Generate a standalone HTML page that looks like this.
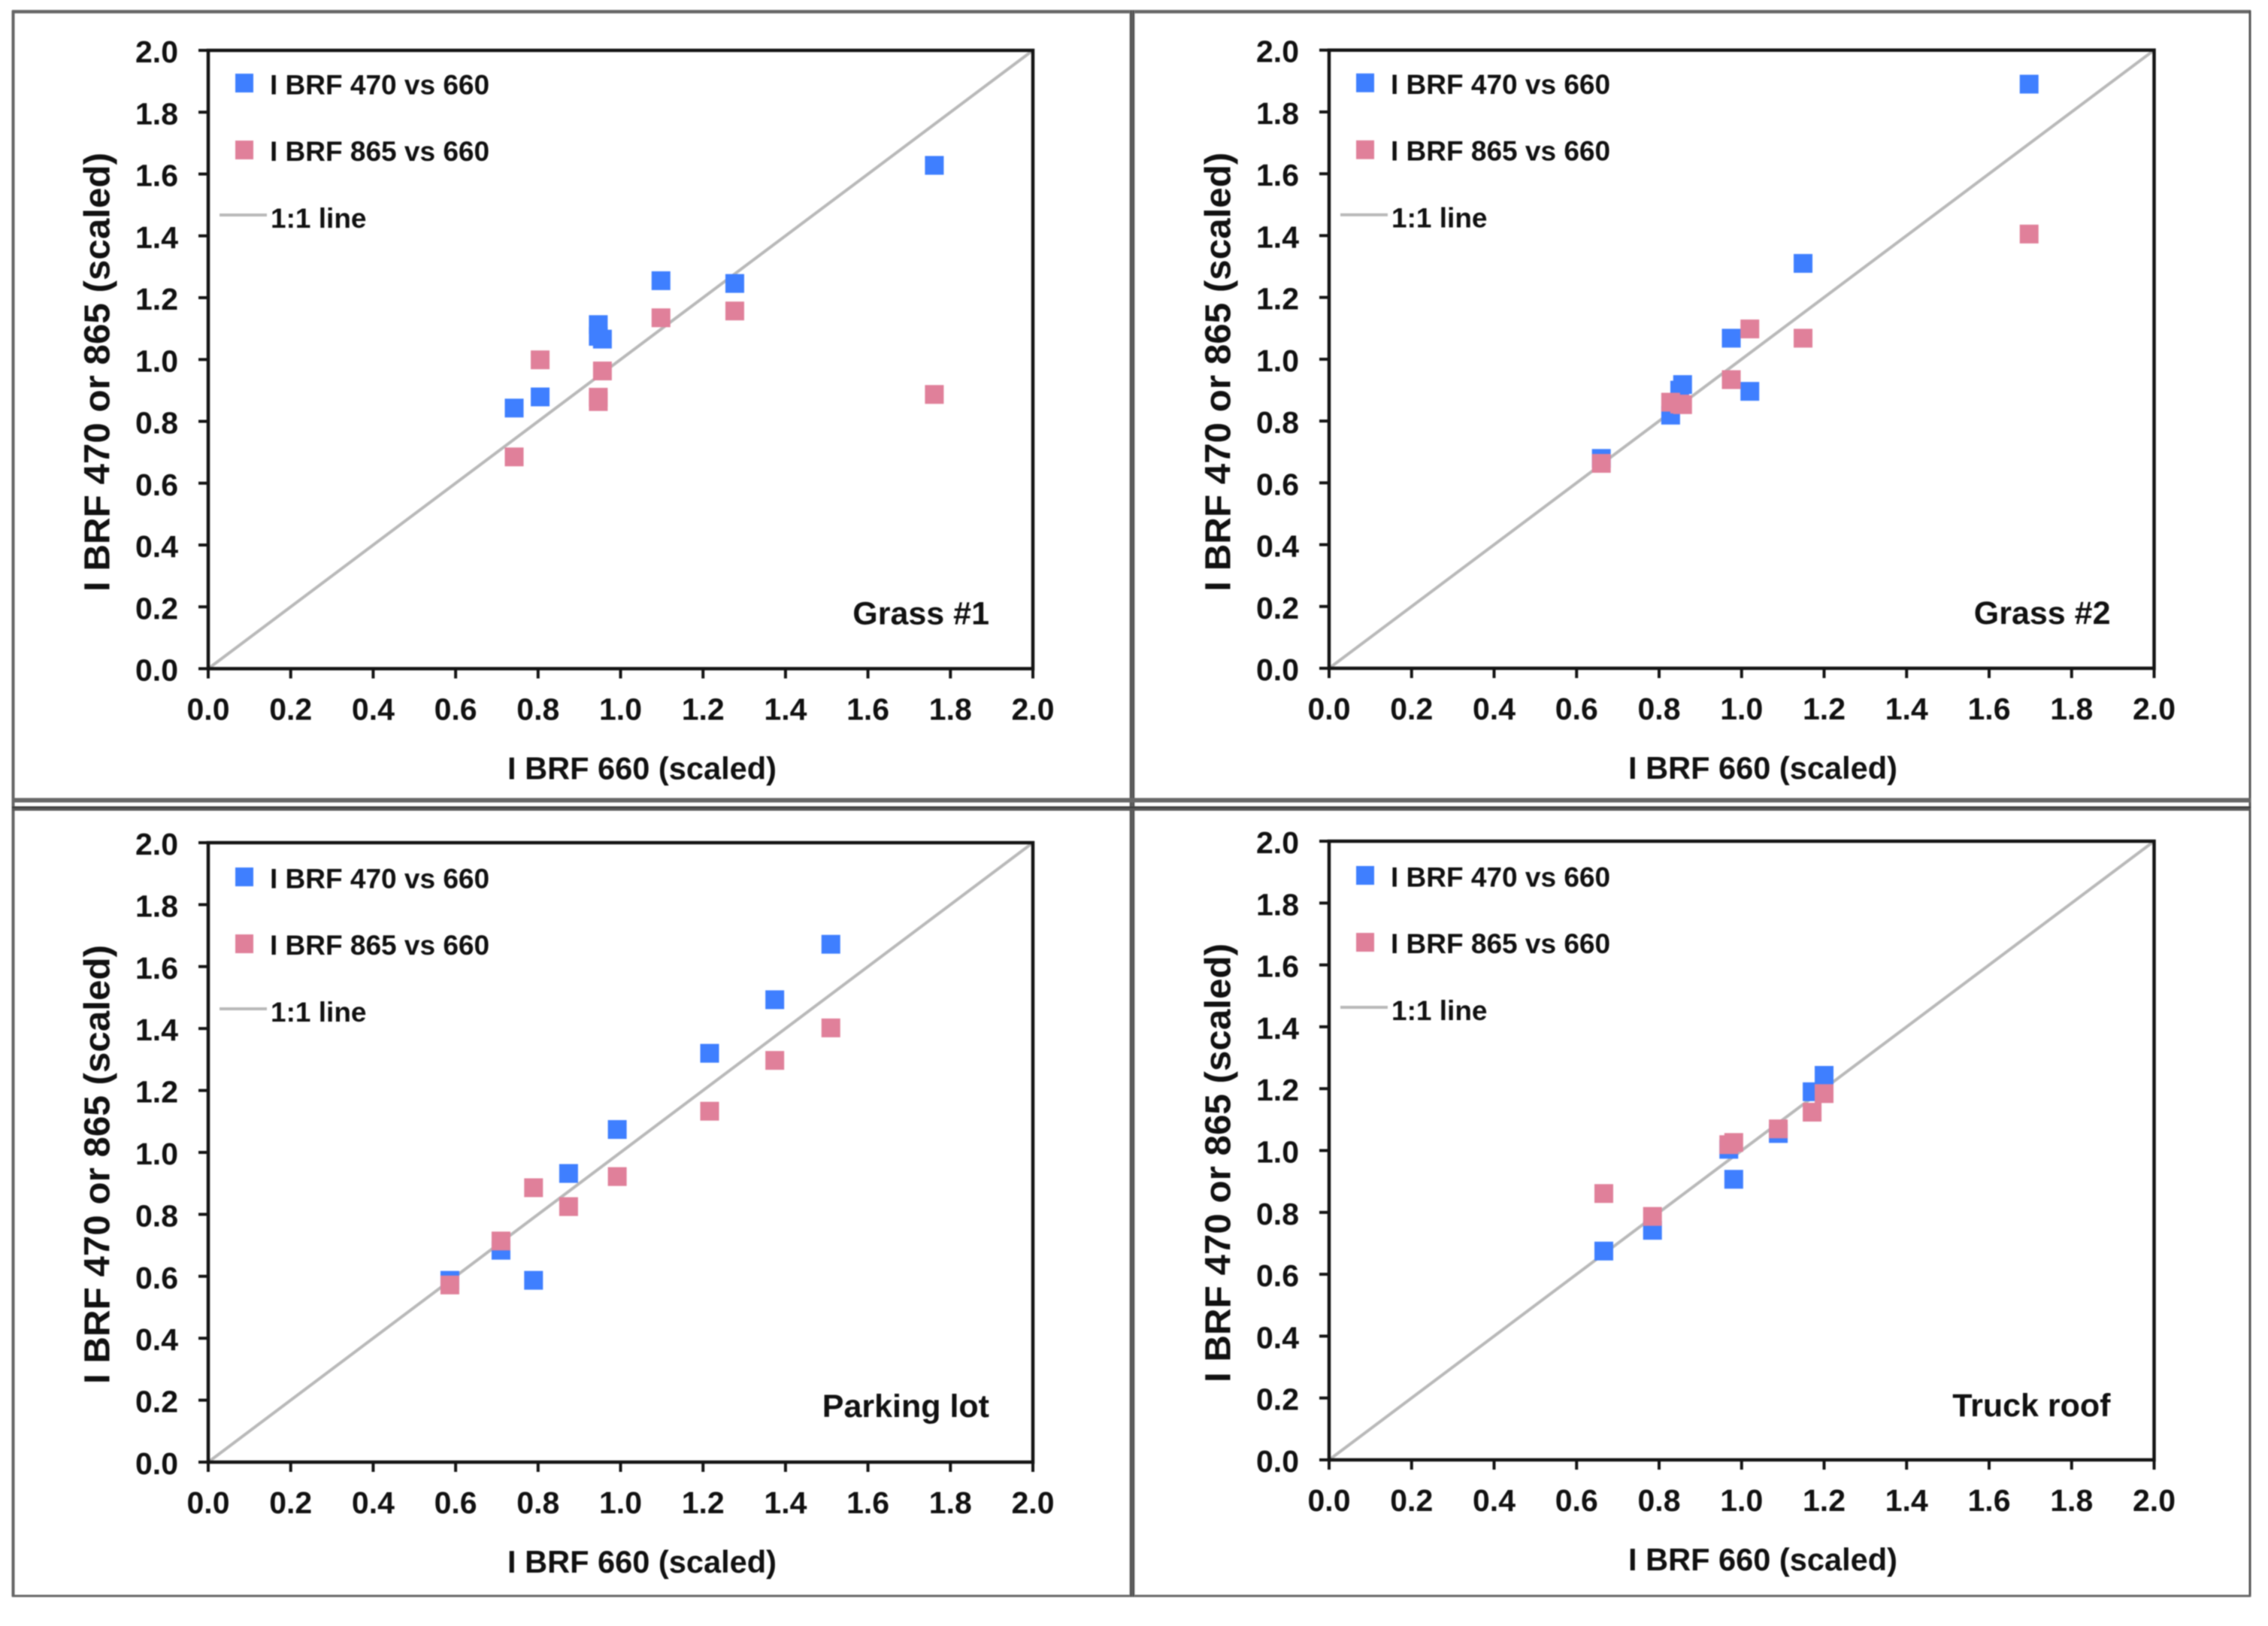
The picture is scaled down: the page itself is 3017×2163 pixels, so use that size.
<!DOCTYPE html>
<html lang="en">
<head>
<meta charset="utf-8">
<title>I BRF scatter comparison</title>
<style>
html,body{margin:0;padding:0;background:#fff;width:3017px;height:2163px;overflow:hidden}
svg{display:block;filter:blur(0.9px)}
text{font-family:"Liberation Sans",sans-serif;font-weight:700;fill:#111}
</style>
</head>
<body>
<svg id="figure" xmlns="http://www.w3.org/2000/svg" width="3017" height="2163" viewBox="0 0 3017 2163">
  <rect x="0" y="0" width="3017" height="2163" fill="#fff"/>
  <g fill="none">
    <line x1="16" y1="15.5" x2="2994" y2="15.5" stroke="#666" stroke-width="4.5"/>
    <line x1="17.5" y1="14" x2="17.5" y2="2124" stroke="#666" stroke-width="4"/>
    <line x1="2993" y1="14" x2="2993" y2="2124" stroke="#555" stroke-width="3"/>
    <line x1="16" y1="2123" x2="2994" y2="2123" stroke="#666" stroke-width="3"/>
    <line x1="1506" y1="14" x2="1506" y2="2124" stroke="#7a7a7a" stroke-width="7"/>
    <line x1="1504.5" y1="14" x2="1504.5" y2="2124" stroke="#3a3a3a" stroke-width="1.4"/>
    <line x1="1507.5" y1="14" x2="1507.5" y2="2124" stroke="#3a3a3a" stroke-width="1.4"/>
    <line x1="16" y1="1064.5" x2="2994" y2="1064.5" stroke="#686868" stroke-width="6"/>
    <line x1="16" y1="1075.5" x2="2994" y2="1075.5" stroke="#5a5a5a" stroke-width="6"/>
    <line x1="16" y1="1074" x2="2994" y2="1074" stroke="#333" stroke-width="1.6"/>
  </g>
</svg>
<script>
const tickLabels = ['0.0','0.2','0.4','0.6','0.8','1.0','1.2','1.4','1.6','1.8','2.0'];

const grassOneX    = [0.742,0.805,0.946,0.946,0.956,1.098,1.277,1.761];
const grassOneBlue = [0.843,0.879,1.113,1.075,1.066,1.255,1.246,1.628];
const grassOnePink = [0.685,0.999,0.878,0.864,0.963,1.135,1.157,0.887];

const grassTwoX    = [0.660,0.828,0.850,0.857,0.975,1.020,1.149,1.697];
const grassTwoBlue = [0.679,0.819,0.900,0.918,1.068,0.896,1.310,1.890];
const grassTwoPink = [0.663,0.861,0.855,0.853,0.934,1.098,1.068,1.405];

const parkingX    = [0.586,0.710,0.789,0.874,0.992,1.216,1.374,1.510];
const parkingBlue = [0.587,0.684,0.587,0.932,1.074,1.320,1.493,1.672];
const parkingPink = [0.572,0.714,0.886,0.825,0.922,1.133,1.297,1.402];

const truckX    = [0.666,0.784,0.969,0.981,1.089,1.171,1.200];
const truckBlue = [0.675,0.742,1.004,0.907,1.055,1.190,1.243];
const truckPink = [0.861,0.787,1.019,1.026,1.070,1.124,1.184];

const panelLayouts = [
  {key:'grass-1',  label:'Grass #1',    xs:grassOneX, blue:grassOneBlue, pink:grassOnePink, left:277,  right:1374, top:67,   bottom:889.5, legendDrop:0, labelRise:59},
  {key:'grass-2',  label:'Grass #2',    xs:grassTwoX, blue:grassTwoBlue, pink:grassTwoPink, left:1768, right:2865.5, top:66.7, bottom:889, legendDrop:0, labelRise:59},
  {key:'parking-lot', label:'Parking lot', xs:parkingX, blue:parkingBlue, pink:parkingPink, left:277, right:1374, top:1121, bottom:1945, legendDrop:2, labelRise:60},
  {key:'truck-roof',  label:'Truck roof',  xs:truckX,   blue:truckBlue,   pink:truckPink,   left:1768, right:2865.5, top:1119, bottom:1942, legendDrop:2, labelRise:58}
];

const BLUE = '#3f7fff';
const PINK = '#e0809a';
const LINE = '#b9b9b9';
const AXIS = '#141414';
const SVGNS = 'http://www.w3.org/2000/svg';
const figure = document.getElementById('figure');

function make(parent, tag, attrs, content) {
  const el = document.createElementNS(SVGNS, tag);
  for (const k in attrs) el.setAttribute(k, attrs[k]);
  if (content !== undefined) el.textContent = content;
  parent.appendChild(el);
  return el;
}

panelLayouts.forEach(function (p) {
  const xAt = function (v) { return p.left + (v / 2) * (p.right - p.left); };
  const yAt = function (v) { return p.bottom - (v / 2) * (p.bottom - p.top); };

  const g = make(figure, 'g', {});
  
  

  const oneToOne = make(g, 'line', {x1:xAt(0), y1:yAt(0), x2:xAt(2), y2:yAt(2), stroke:LINE, 'stroke-width':4});
  
  

  p.xs.forEach(function (x, i) {
    const cx = xAt(x), cy = yAt(p.blue[i]);
    const pt = make(g, 'rect', {x:cx - 12.5, y:cy - 12.5, width:25, height:25, fill:BLUE});
    
    
  });
  p.xs.forEach(function (x, i) {
    const cx = xAt(x), cy = yAt(p.pink[i]);
    const pt = make(g, 'rect', {x:cx - 12.5, y:cy - 12.5, width:25, height:25, fill:PINK});
    
    
  });

  const frame = make(g, 'rect', {x:p.left, y:p.top, width:p.right - p.left, height:p.bottom - p.top, fill:'none', stroke:AXIS, 'stroke-width':4.5});
  
  

  tickLabels.forEach(function (lab) {
    const v = parseFloat(lab);
    const ty = yAt(v), tx = xAt(v);

    const yTick = make(g, 'line', {x1:p.left - 13, y1:ty, x2:p.left, y2:ty, stroke:AXIS, 'stroke-width':4});
    
    

    const xTick = make(g, 'line', {x1:tx, y1:p.bottom, x2:tx, y2:p.bottom + 13, stroke:AXIS, 'stroke-width':4});
    
    

    const yLab = make(g, 'text', {x:p.left - 40, y:ty + 16, 'text-anchor':'end', 'font-size':41}, lab);
    
    

    const xLab = make(g, 'text', {x:tx, y:p.bottom + 68, 'text-anchor':'middle', 'font-size':41}, lab);
    
    
  });

  const titleX = make(g, 'text', {x:p.left + 577, y:p.bottom + 147, 'text-anchor':'middle', 'font-size':42, textLength:358, lengthAdjust:'spacingAndGlyphs'}, 'I BRF 660 (scaled)');
  
  

  const titleY = make(g, 'text', {x:0, y:0, 'text-anchor':'middle', 'font-size':48, textLength:584, lengthAdjust:'spacingAndGlyphs', transform:'translate(' + (p.left - 131.5) + ' ' + (p.top + 428) + ') rotate(-90)'}, 'I BRF 470 or 865 (scaled)');
  
  

  const lx = p.left;
  const ly = p.top + p.legendDrop;

  const legBlue = make(g, 'rect', {x:lx + 36, y:ly + 31, width:24, height:25, fill:BLUE});
  
  

  const legBlueText = make(g, 'text', {x:lx + 82, y:ly + 58.5, 'font-size':37}, 'I BRF 470 vs 660');
  
  

  const legPink = make(g, 'rect', {x:lx + 36, y:ly + 120, width:24, height:25, fill:PINK});
  
  

  const legPinkText = make(g, 'text', {x:lx + 82, y:ly + 147, 'font-size':37}, 'I BRF 865 vs 660');
  
  

  const legLine = make(g, 'line', {x1:lx + 15, y1:ly + 219, x2:lx + 78, y2:ly + 219, stroke:LINE, 'stroke-width':4});
  
  

  const legLineText = make(g, 'text', {x:lx + 83, y:ly + 236, 'font-size':37}, '1:1 line');
  
  

  const panelLabel = make(g, 'text', {x:p.right - 58, y:p.bottom - p.labelRise, 'text-anchor':'end', 'font-size':43}, p.label);
  
  
});
</script>
</body>
</html>
